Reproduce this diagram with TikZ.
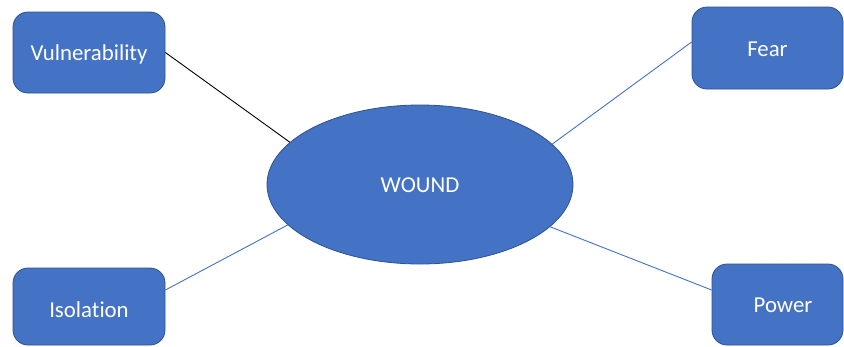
\documentclass[tikz,border=0pt]{standalone}
\usepackage{fontspec}
\setmainfont[Ligatures={NoCommon}]{Carlito}
\usetikzlibrary{shapes.geometric}
\definecolor{boxblue}{HTML}{4472C4}
\definecolor{boxedge}{HTML}{2F528F}
\begin{document}
\begin{tikzpicture}[x=1pt,y=-1pt,
  labfont/.style={text=white, font=\fontsize{22.8}{26}\selectfont, inner sep=0pt, text depth=0pt},
  termbox/.style={labfont, draw=boxedge, line width=0.8pt, fill=boxblue, rounded corners=15pt,
    minimum width=152pt, minimum height=81pt},
  hub/.style={labfont, ellipse, draw=boxedge, line width=0.8pt, fill=boxblue, minimum width=306pt,
    minimum height=159pt},
  bluelink/.style={draw=boxblue, line width=0.9pt},
  blacklink/.style={draw=black, line width=0.9pt}]
\clip (0,0) rectangle (844,346);
\fill[white] (0,0) rectangle (844,346);
\node[hub, text height=16.3pt] (wound) at (420,184.5) {WOUND};
\node[termbox, text height=16.3pt] (vul) at (89,52.5) {Vulnerability};
\node[termbox, text height=17.1pt, minimum width=151pt, minimum height=82pt] (fear) at (767.5,48) {Fear};
\node[termbox, text height=21.7pt, minimum height=77pt] (iso) at (89,306.5) {Isolation};
\node[termbox, text height=15.7pt, minimum width=131pt] (pow) at (777.5,304.5) {\hspace{11pt}Power};
\draw[blacklink] (vul.east) -- (wound.162);
\draw[bluelink] ([yshift=6pt]fear.west) -- (wound.17.5);
\draw[bluelink] ([yshift=16.5pt]iso.east) -- (wound.197.6);
\draw[bluelink] ([yshift=14.5pt]pow.west) -- (wound.-18);
\end{tikzpicture}
\end{document}
